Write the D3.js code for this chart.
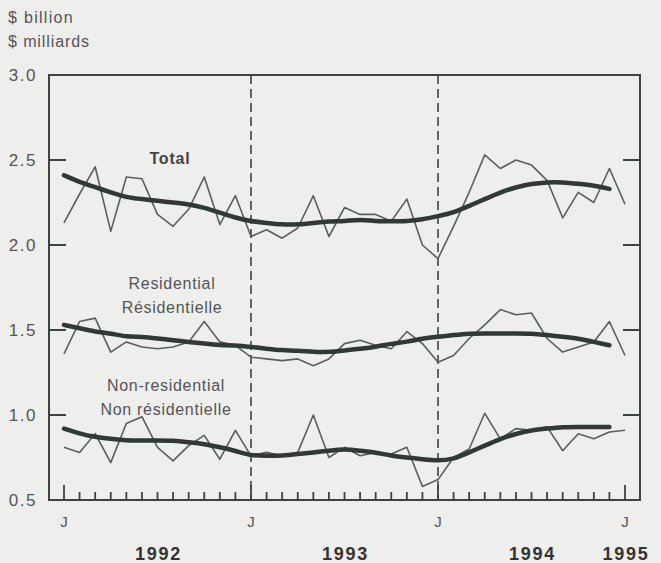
<!DOCTYPE html>
<html><head><meta charset="utf-8">
<script src="https://cdn.jsdelivr.net/npm/d3@7"></script>
<style>
html,body{margin:0;padding:0;background:#eeeeec;}
svg{display:block;}
</style></head>
<body>
<svg id="chart" width="661" height="563"></svg>
<script>
// Monthly data, Jan 1992 (index 0) to Jan 1995 (index 36)
const yearLabels = ["1992","1993","1994","1995"];
const monthTickLabels = ["J","J","J","J"];
const yTicks = [0.5,1.0,1.5,2.0,2.5,3.0];

const totalRaw = [2.13,2.30,2.46,2.08,2.40,2.39,2.18,2.11,2.21,2.40,2.12,2.29,
  2.05,2.09,2.04,2.10,2.29,2.05,2.22,2.18,2.18,2.14,2.27,2.00,
  1.92,2.11,2.31,2.53,2.45,2.50,2.47,2.38,2.16,2.31,2.25,2.45,2.24];
const totalTrend = [2.41,2.37,2.34,2.31,2.28,2.27,2.26,2.25,2.24,2.22,2.19,2.16,
  2.14,2.13,2.12,2.12,2.13,2.14,2.14,2.15,2.14,2.14,2.14,2.15,
  2.17,2.19,2.23,2.27,2.31,2.34,2.36,2.37,2.37,2.36,2.35,2.33];

const resRaw = [1.36,1.55,1.57,1.37,1.43,1.40,1.39,1.40,1.43,1.55,1.43,1.41,
  1.34,1.33,1.32,1.33,1.29,1.33,1.42,1.44,1.41,1.39,1.49,1.42,
  1.31,1.35,1.45,1.53,1.62,1.59,1.60,1.45,1.37,1.40,1.43,1.55,1.35];
const resTrend = [1.53,1.51,1.49,1.48,1.46,1.46,1.45,1.44,1.43,1.42,1.41,1.41,
  1.40,1.39,1.38,1.38,1.37,1.37,1.38,1.39,1.40,1.42,1.43,1.45,
  1.46,1.47,1.48,1.48,1.48,1.48,1.48,1.47,1.46,1.45,1.43,1.41];

const nonResRaw = [0.81,0.78,0.89,0.72,0.95,0.99,0.81,0.73,0.82,0.88,0.74,0.91,
  0.76,0.78,0.76,0.78,1.00,0.75,0.81,0.76,0.78,0.77,0.81,0.58,
  0.62,0.75,0.80,1.01,0.86,0.92,0.91,0.93,0.79,0.89,0.86,0.90,0.91];
const nonResTrend = [0.92,0.89,0.87,0.86,0.85,0.85,0.85,0.85,0.84,0.83,0.81,0.79,
  0.76,0.76,0.76,0.77,0.78,0.79,0.80,0.79,0.78,0.76,0.75,0.74,
  0.73,0.74,0.78,0.82,0.86,0.89,0.91,0.92,0.93,0.93,0.93,0.93];

const svg = d3.select("#chart");
const ink = "#3b4540";
const frame = {left:49, right:640, top:75, bottom:500};

const x = d3.scaleLinear().domain([0,36]).range([64,625]);
const y = d3.scaleLinear().domain([0.5,3.0]).range([frame.bottom, frame.top]);

const font = "'Liberation Sans', Arial, Helvetica, sans-serif";

// units
svg.append("text").attr("x",8).attr("y",23).text("$ billion")
  .attr("font-family",font).attr("font-size",16).attr("letter-spacing",1.3).attr("fill","#555");
svg.append("text").attr("x",8).attr("y",47).text("$ milliards")
  .attr("font-family",font).attr("font-size",16).attr("letter-spacing",0.9).attr("fill","#555");

// y tick labels
svg.append("g").selectAll("text").data(yTicks).join("text")
  .attr("x",37).attr("y",d=>y(d)+6).attr("text-anchor","end")
  .attr("font-family",font).attr("font-size",17).attr("letter-spacing",1.5).attr("fill","#555")
  .text(d=>d3.format(".1f")(d));

// inner y ticks (left and right)
const innerTicks = yTicks.filter(d=>d>0.5 && d<3.0);
const gT = svg.append("g").attr("stroke",ink).attr("stroke-width",2);
gT.selectAll("line.l").data(innerTicks).join("line").attr("class","l")
  .attr("x1",frame.left).attr("x2",frame.left+17).attr("y1",d=>y(d)).attr("y2",d=>y(d));
gT.selectAll("line.r").data(innerTicks).join("line").attr("class","r")
  .attr("x1",frame.right-17).attr("x2",frame.right).attr("y1",d=>y(d)).attr("y2",d=>y(d));

// month ticks on bottom, pointing up
const months = d3.range(0,37);
gT.selectAll("line.m").data(months).join("line").attr("class","m")
  .attr("stroke-width",1.8)
  .attr("x1",d=>x(d)).attr("x2",d=>x(d))
  .attr("y1",frame.bottom).attr("y2",d=>frame.bottom-(d%12===0?15:8));

// dashed lines at January 1993 and 1994
svg.append("g").selectAll("line").data([12,24]).join("line")
  .attr("x1",d=>x(d)).attr("x2",d=>x(d)).attr("y1",frame.top).attr("y2",frame.bottom)
  .attr("stroke",ink).attr("stroke-width",1.6).attr("stroke-dasharray","9,5");

// frame
svg.append("rect").attr("x",frame.left).attr("y",frame.top)
  .attr("width",frame.right-frame.left).attr("height",frame.bottom-frame.top)
  .attr("fill","none").attr("stroke",ink).attr("stroke-width",2);

// month labels J
svg.append("g").selectAll("text").data([0,12,24,36]).join("text")
  .attr("x",d=>x(d)).attr("y",527).attr("text-anchor","middle")
  .attr("font-family",font).attr("font-size",15).attr("fill","#555")
  .text((d,i)=>monthTickLabels[i]);

// year labels
const yearPos = [6,18,30,36];
svg.append("g").selectAll("text").data(yearLabels).join("text")
  .attr("x",(d,i)=>x(yearPos[i])+1).attr("y",560).attr("text-anchor","middle")
  .attr("font-family",font)
  .attr("font-weight","bold").attr("font-size",18).attr("letter-spacing",1.8).attr("fill","#333")
  .text(d=>d);

// lines
const rawLine = d3.line().x((d,i)=>x(i)).y(d=>y(d));
const trendLine = d3.line().x((d,i)=>x(i)).y(d=>y(d)).curve(d3.curveBasis);

[totalRaw,resRaw,nonResRaw].forEach(s=>{
  svg.append("path").datum(s).attr("d",rawLine).attr("fill","none")
    .attr("stroke","#58605b").attr("stroke-width",1.6).attr("stroke-linejoin","round");
});
[totalTrend,resTrend,nonResTrend].forEach(s=>{
  svg.append("path").datum(s).attr("d",trendLine).attr("fill","none")
    .attr("stroke","#2f3a34").attr("stroke-width",4.5).attr("stroke-linecap","round");
});

// series labels
svg.append("text").attr("x",170).attr("y",164).attr("text-anchor","middle")
  .attr("font-family",font).attr("font-weight","bold").attr("font-size",16).attr("letter-spacing",0.8).attr("fill","#444").text("Total");
const lab = [["Residential",172,289],["Résidentielle",172,313],["Non-residential",166,391],["Non résidentielle",166,415]];
svg.append("g").selectAll("text").data(lab).join("text")
  .attr("x",d=>d[1]).attr("y",d=>d[2]).attr("text-anchor","middle")
  .attr("font-family",font).attr("font-size",16).attr("letter-spacing",0.7).attr("fill","#555")
  .text(d=>d[0]);
</script>
</body></html>
